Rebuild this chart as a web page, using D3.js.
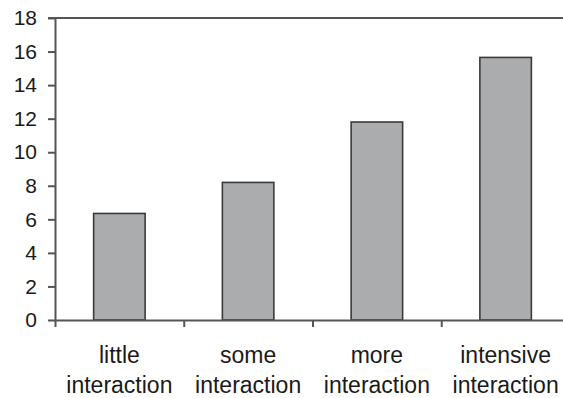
<!DOCTYPE html>
<html>
<head>
<meta charset="utf-8">
<script src="https://cdn.jsdelivr.net/npm/d3@7"></script>
<style>
  body { margin: 0; background: #fff; }
  svg { display: block; font-family: "Liberation Sans", Arial, sans-serif; }
</style>
</head>
<body>
<div id="chart"></div>
<script>
const categories = ["little interaction", "some interaction", "more interaction", "intensive interaction"];
const values = [6.35, 8.2, 11.8, 15.65];
const yTicks = [0, 2, 4, 6, 8, 10, 12, 14, 16, 18];

const width = 563, height = 398;
const margin = {top: 18, left: 55, bottom: 78};
const plotRight = 570; // plot runs slightly past the visible edge

const svg = d3.select("#chart").append("svg")
    .attr("width", width)
    .attr("height", height);

const y = d3.scaleLinear().domain([0, 18]).range([height - margin.bottom, margin.top]);
const x = d3.scaleBand().domain(categories).range([margin.left, plotRight])
    .paddingInner(0.6).paddingOuter(0.3);
const xEdge = d3.scaleLinear().domain([0, categories.length]).range([margin.left, plotRight]);

// top border line
svg.append("line")
    .attr("x1", margin.left - 7).attr("x2", width)
    .attr("y1", y(18)).attr("y2", y(18))
    .attr("stroke", "#555").attr("stroke-width", 2);

// bars
svg.append("g").selectAll("rect").data(values).join("rect")
    .attr("x", (d, i) => x(categories[i]))
    .attr("y", d => y(d))
    .attr("width", x.bandwidth())
    .attr("height", d => y(0) - y(d))
    .attr("fill", "#abacae")
    .attr("stroke", "#3a3a3a")
    .attr("stroke-width", 1.6);

// y axis
const yAxis = svg.append("g").attr("transform", `translate(${margin.left},0)`)
    .call(d3.axisLeft(y).tickValues(yTicks).tickSize(7).tickSizeOuter(0).tickPadding(11));
yAxis.select(".domain").attr("stroke", "#555").attr("stroke-width", 2);
yAxis.selectAll(".tick line").attr("stroke", "#555").attr("stroke-width", 2);
yAxis.selectAll(".tick text").attr("font-size", "21px").attr("fill", "#1a1a1a")
    .attr("font-family", "Liberation Sans, Arial, sans-serif");

// x axis with ticks at category boundaries
const xAxis = svg.append("g").attr("transform", `translate(0,${y(0)})`)
    .call(d3.axisBottom(xEdge).tickValues([0, 1, 2, 3]).tickFormat("").tickSize(7).tickSizeOuter(0));
xAxis.select(".domain").attr("stroke", "#555").attr("stroke-width", 2);
xAxis.selectAll(".tick line").attr("stroke", "#555").attr("stroke-width", 2);

// category labels, two lines each
const labels = svg.append("g").selectAll("text").data(categories).join("text")
    .attr("text-anchor", "middle")
    .attr("font-size", "23px")
    .attr("fill", "#1a1a1a")
    .attr("transform", d => `translate(${x(d) + x.bandwidth() / 2},0)`);
labels.each(function(d) {
    const parts = d.split(" ");
    d3.select(this).append("tspan").attr("x", 0).attr("y", 363).text(parts[0]);
    d3.select(this).append("tspan").attr("x", 0).attr("y", 393).text(parts[1]);
});
</script>
</body>
</html>
